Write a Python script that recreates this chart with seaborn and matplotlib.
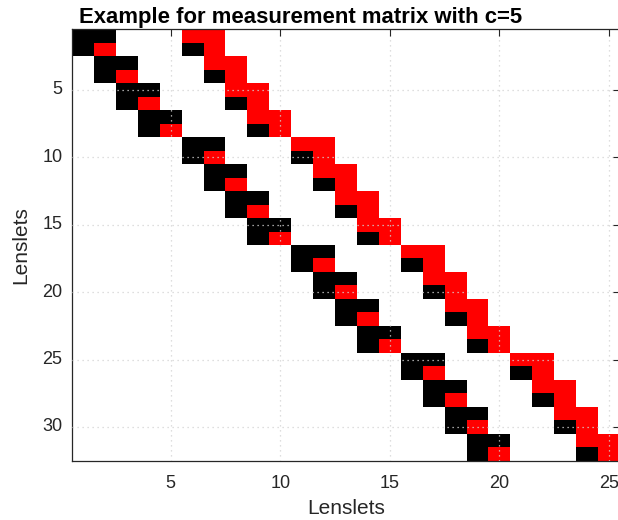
import numpy as np
import pandas as pd
import matplotlib
matplotlib.use("Agg")
import matplotlib.pyplot as plt
from matplotlib.colors import ListedColormap
import seaborn as sns

# ---- data ----
rows = list(range(1, 33))
cols = list(range(1, 26))
black_cols = [[1, 2], [1, 6], [2, 3], [2, 7], [3, 4], [3, 8], [4, 5], [4, 9],
              [6, 7], [6, 11], [7, 8], [7, 12], [8, 9], [8, 13], [9, 10], [9, 14],
              [11, 12], [11, 16], [12, 13], [12, 17], [13, 14], [13, 18], [14, 15], [14, 19],
              [16, 17], [16, 21], [17, 18], [17, 22], [18, 19], [18, 23], [19, 20], [19, 24]]
red_cols = [[6, 7], [2, 7], [7, 8], [3, 8], [8, 9], [4, 9], [9, 10], [5, 10],
            [11, 12], [7, 12], [12, 13], [8, 13], [13, 14], [9, 14], [14, 15], [10, 15],
            [16, 17], [12, 17], [17, 18], [13, 18], [18, 19], [14, 19], [19, 20], [15, 20],
            [21, 22], [17, 22], [22, 23], [18, 23], [23, 24], [19, 24], [24, 25], [20, 25]]
x_ticks = [5, 10, 15, 20, 25]
y_ticks = [5, 10, 15, 20, 25, 30]
title = "Example for measurement matrix with c=5"

mat = pd.DataFrame(0, index=rows, columns=cols)
for r, bc, rc in zip(rows, black_cols, red_cols):
    for c in bc:
        mat.loc[r, c] = 1
    for c in rc:
        mat.loc[r, c] = 2

sns.set_style("white")
plt.rcParams['font.family'] = ['Liberation Sans', 'DejaVu Sans']

fig = plt.figure(figsize=(6.18, 5.2), dpi=100)
ax = fig.add_axes([72.1 / 618, 1 - 460.7 / 520, (619.9 - 72.1) / 618, (460.7 - 29.3) / 520])

sns.heatmap(mat, cmap=ListedColormap(['white', 'black', 'red']), vmin=0, vmax=2,
            cbar=False, ax=ax, linewidths=0)

ax.set_xticks([t - 0.5 for t in x_ticks])
ax.set_xticklabels([str(t) for t in x_ticks], rotation=0)
ax.set_yticks([t - 0.5 for t in y_ticks])
ax.set_yticklabels([str(t) for t in y_ticks], rotation=0)

ax.grid(True, linestyle=(0, (1, 3)), color='#d4d4d4', linewidth=0.9)
ax.set_axisbelow(False)

for s in ax.spines.values():
    s.set_visible(True)
    s.set_color('#262626')
    s.set_linewidth(0.9)

ax.tick_params(direction='in', top=True, right=True, length=5, width=0.8,
               colors='#262626', labelsize=13)
ax.tick_params(axis='x', pad=10)
ax.tick_params(axis='y', pad=7)
ax.set_xlabel("Lenslets", fontsize=15, color='#262626', labelpad=5)
ax.set_ylabel("Lenslets", fontsize=15, color='#262626', labelpad=9)

fig.text(79 / 618, 1 - 22.5 / 520, title, fontsize=15.9, fontweight='bold',
         ha='left', va='baseline', color='black')

fig.savefig("out.png", dpi=100)
